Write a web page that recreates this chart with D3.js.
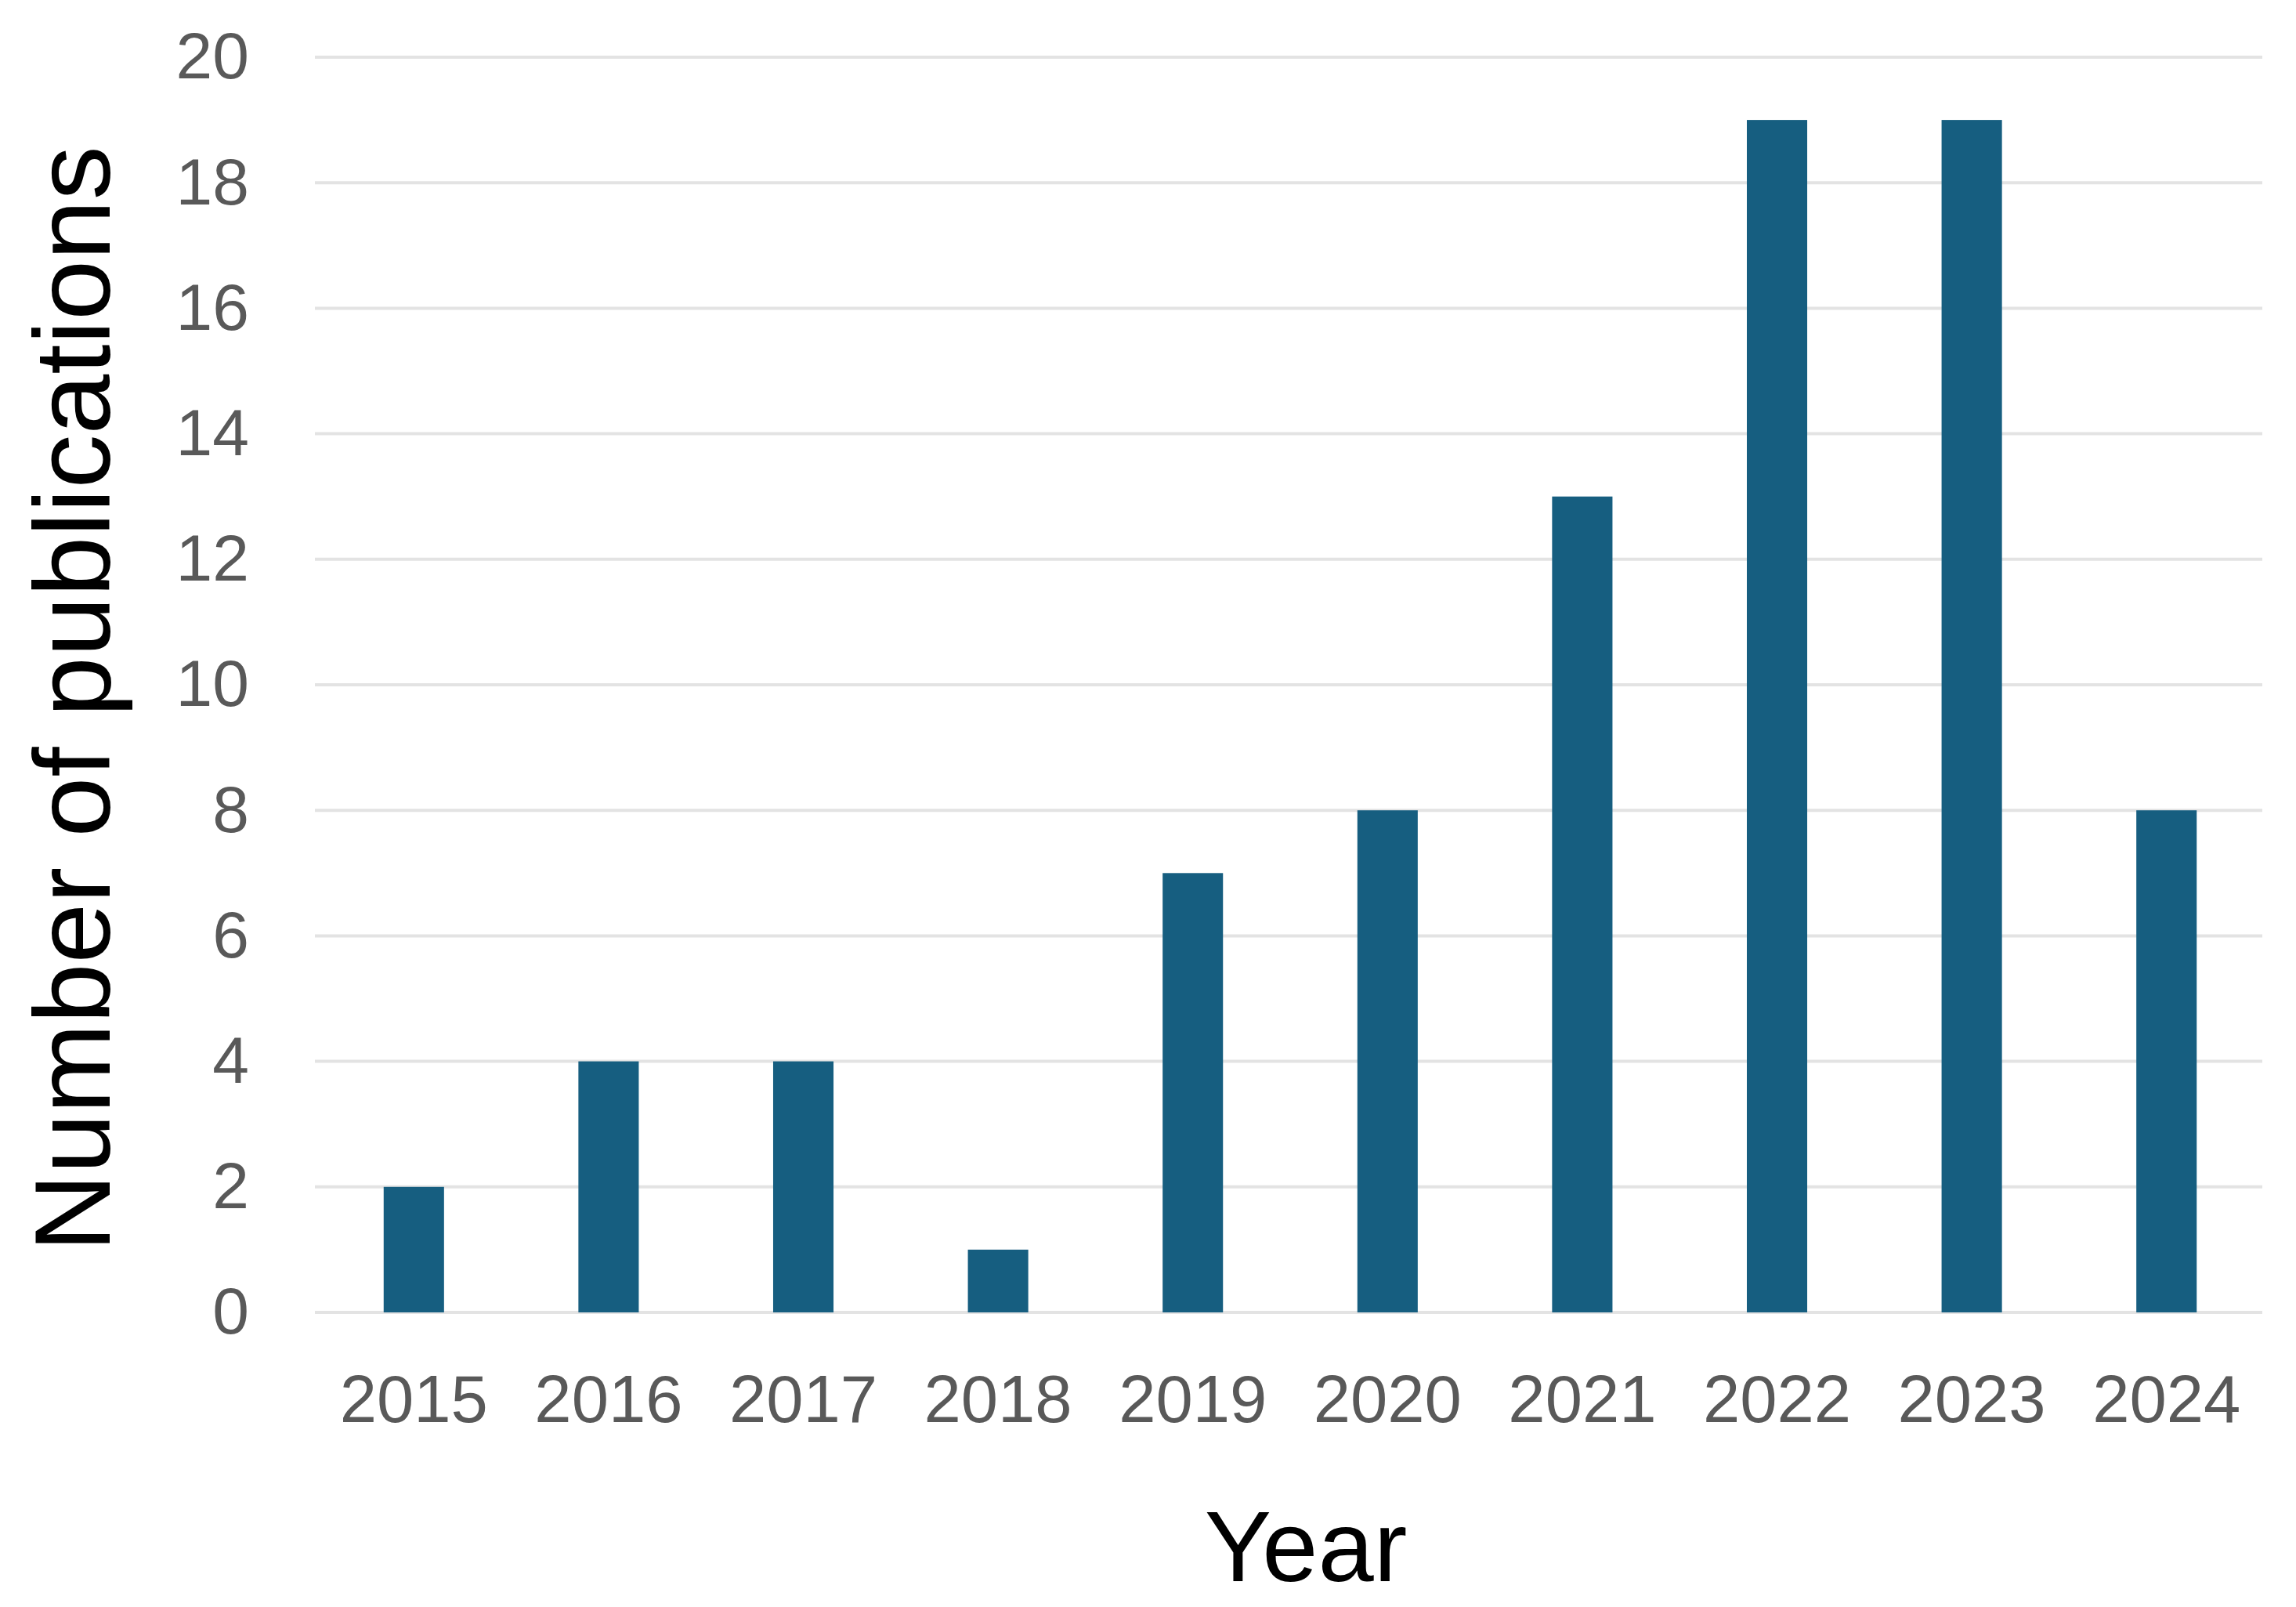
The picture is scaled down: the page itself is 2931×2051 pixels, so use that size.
<!DOCTYPE html>
<html>
<head>
<meta charset="utf-8">
<script src="https://cdn.jsdelivr.net/npm/d3@7"></script>
<style>
  body { margin: 0; background: #fff; }
  text { font-family: "Liberation Sans", Arial, sans-serif; }
</style>
</head>
<body>
<div class="canvas"></div>
<script>
// data
const years = ['2015', '2016', '2017', '2018', '2019', '2020', '2021', '2022', '2023', '2024'];
const publications = [2, 4, 4, 1, 7, 8, 13, 19, 19, 8];
const yTicks = [0, 2, 4, 6, 8, 10, 12, 14, 16, 18, 20];

const width = 2931, height = 2051;

const svg = d3.select('.canvas')
    .append('svg')
        .attr('width', width)
        .attr('height', height);

// plot area
const margin = {left: 404, right: 2890, top: 73, bottom: 1675};

const x = d3.scaleBand()
    .domain(years)
    .range([margin.left, margin.right])
    .paddingInner(0.69)
    .paddingOuter(0.345);

const y = d3.scaleLinear()
    .domain([0, 20])
    .range([margin.bottom, margin.top]);

// gridlines
svg.append('g')
    .selectAll('line')
    .data(yTicks)
    .enter()
    .append('line')
        .attr('x1', margin.left - 2)
        .attr('x2', margin.right - 2)
        .attr('y1', d => y(d))
        .attr('y2', d => y(d))
        .attr('stroke', '#e3e3e3')
        .attr('stroke-width', 4);

// bars
svg.append('g')
    .selectAll('rect')
    .data(publications)
    .enter()
    .append('rect')
        .attr('x', (d, i) => x(years[i]))
        .attr('y', d => y(d))
        .attr('width', x.bandwidth())
        .attr('height', d => margin.bottom - y(d))
        .attr('fill', '#165e80');

// y axis labels
const yAxis = d3.axisLeft(y)
    .tickValues(yTicks)
    .tickSize(0)
    .tickPadding(0);

svg.append('g')
    .attr('transform', 'translate(318,0)')
    .call(yAxis)
    .call(g => g.select('.domain').remove())
    .selectAll('text')
        .attr('font-size', 84)
        .attr('fill', '#595959')
        .attr('font-family', '"Liberation Sans", Arial, sans-serif');

// x axis labels
const xAxis = d3.axisBottom(x)
    .tickSize(0)
    .tickPadding(0);

svg.append('g')
    .attr('transform', `translate(0,${margin.bottom})`)
    .call(xAxis)
    .call(g => g.select('.domain').remove())
    .selectAll('text')
        .attr('font-size', 85)
        .attr('fill', '#595959')
        .attr('font-family', '"Liberation Sans", Arial, sans-serif')
        .attr('dy', null)
        .attr('y', 140);

// axis titles
svg.append('text')
    .attr('x', 1667)
    .attr('y', 2018)
    .attr('text-anchor', 'middle')
    .attr('font-size', 128)
    .attr('fill', '#000')
    .text('Year');

svg.append('text')
    .attr('transform', 'translate(140,892) rotate(-90)')
    .attr('text-anchor', 'middle')
    .attr('font-size', 138)
    .attr('fill', '#000')
    .text('Number of publications');
</script>
</body>
</html>
